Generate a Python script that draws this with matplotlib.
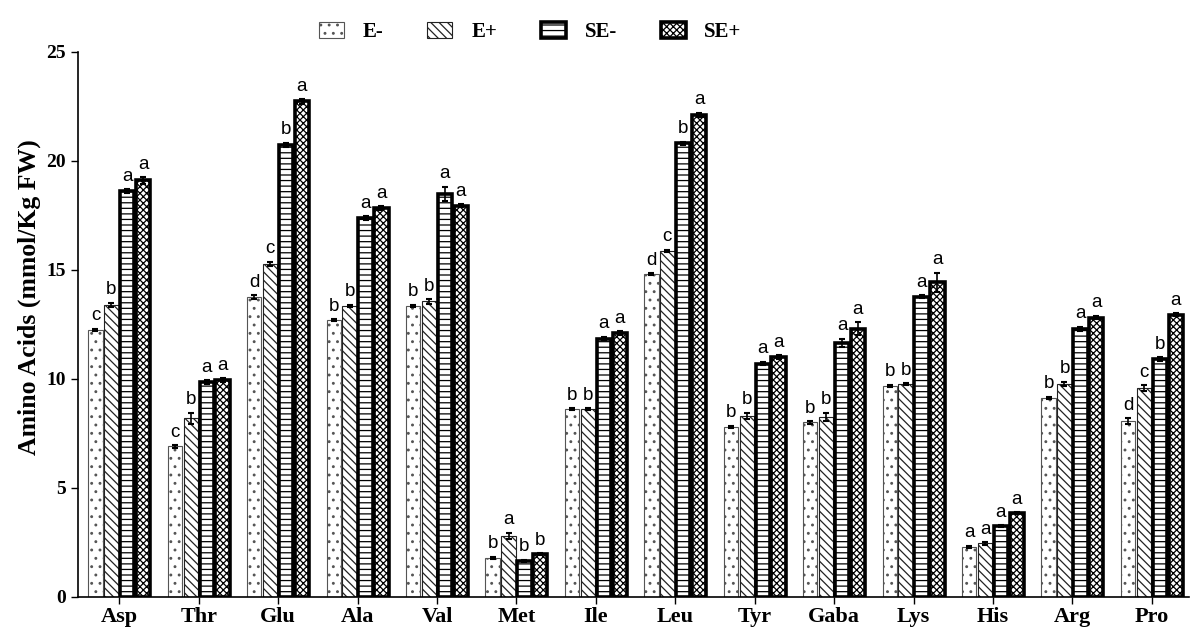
import matplotlib
matplotlib.use("Agg")
from matplotlib import pyplot as plt
from matplotlib.patches import Patch
import numpy as np

plt.rcParams['hatch.linewidth'] = 0.9

# dati
amino = ['Asp', 'Thr', 'Glu', 'Ala', 'Val', 'Met', 'Ile', 'Leu', 'Tyr', 'Gaba', 'Lys', 'His', 'Arg', 'Pro']
gruppi = ['E-', 'E+', 'SE-', 'SE+']

e_meno = [12.25, 6.9, 13.76, 12.7, 13.35, 1.8, 8.6, 14.8, 7.8, 8.0, 9.69, 2.3, 9.14, 8.07]
e_piu = [13.4, 8.2, 15.27, 13.35, 13.55, 2.8, 8.6, 15.87, 8.3, 8.25, 9.75, 2.45, 9.77, 9.58]
se_meno = [18.6, 9.85, 20.73, 17.38, 18.49, 1.65, 11.85, 20.8, 10.7, 11.65, 13.77, 3.25, 12.29, 10.92]
se_piu = [19.1, 9.95, 22.72, 17.83, 17.94, 1.95, 12.1, 22.1, 11.0, 12.3, 14.42, 3.85, 12.81, 12.94]

err_e_meno = [0.05, 0.05, 0.08, 0.05, 0.05, 0.05, 0.05, 0.05, 0.05, 0.05, 0.05, 0.05, 0.05, 0.12]
err_e_piu = [0.1, 0.25, 0.1, 0.05, 0.1, 0.15, 0.05, 0.05, 0.15, 0.2, 0.05, 0.05, 0.1, 0.12]
err_se_meno = [0.1, 0.1, 0.1, 0.08, 0.33, 0.05, 0.08, 0.08, 0.08, 0.2, 0.08, 0.05, 0.1, 0.08]
err_se_piu = [0.15, 0.08, 0.1, 0.08, 0.08, 0.05, 0.08, 0.1, 0.08, 0.3, 0.45, 0.05, 0.08, 0.08]

lettere_e_meno = ['c', 'c', 'd', 'b', 'b', 'b', 'b', 'd', 'b', 'b', 'b', 'a', 'b', 'd']
lettere_e_piu = ['b', 'b', 'c', 'b', 'b', 'a', 'b', 'c', 'b', 'b', 'b', 'a', 'b', 'c']
lettere_se_meno = ['a', 'a', 'b', 'a', 'a', 'b', 'a', 'b', 'a', 'a', 'a', 'a', 'a', 'b']
lettere_se_piu = ['a', 'a', 'a', 'a', 'a', 'b', 'a', 'a', 'a', 'a', 'a', 'a', 'a', 'a']

valori = [e_meno, e_piu, se_meno, se_piu]
errori = [err_e_meno, err_e_piu, err_se_meno, err_se_piu]
lettere = [lettere_e_meno, lettere_e_piu, lettere_se_meno, lettere_se_piu]

stili = [
    dict(hatch='..', edgecolor='#555555', linewidth=0.8),
    dict(hatch='\\\\\\\\', edgecolor='#222222', linewidth=0.8),
    dict(hatch='---', edgecolor='black', linewidth=2.6),
    dict(hatch='xxxxx', edgecolor='black', linewidth=2.6),
]

serif = ['Liberation Serif', 'DejaVu Serif']

fig = plt.figure(figsize=(12, 6.31), dpi=100)
ax = fig.add_axes([0.065, 0.054, 0.926, 0.864])

x = np.arange(len(amino))
step = 0.2
width = 0.18
for i in range(4):
    pos = x + (i - 1.5) * step
    ax.bar(pos, valori[i], width, color='white', **stili[i], zorder=2)
    ax.errorbar(pos, valori[i], yerr=errori[i], fmt='none', ecolor='black',
                elinewidth=1.2, capsize=2.5, capthick=1.5, zorder=3)
    for p, v, e, l in zip(pos, valori[i], errori[i], lettere[i]):
        ax.text(p, v + e + 0.2, l, ha='center', va='bottom', fontsize=13.5,
                family=['Liberation Sans', 'DejaVu Sans'])

ax.set_xlim(-0.52, 13.47)
ax.set_ylim(0, 25)
ax.set_yticks([0, 5, 10, 15, 20, 25])
ax.set_xticks(x)
ax.set_xticklabels(amino)
for lab in ax.get_xticklabels():
    lab.set_family(serif)
    lab.set_fontweight('bold')
    lab.set_fontsize(16)
for lab in ax.get_yticklabels():
    lab.set_family(serif)
    lab.set_fontweight('bold')
    lab.set_fontsize(14)
ax.tick_params(direction='out', length=5, width=1)
ax.tick_params(axis='x', pad=2)
ax.spines['top'].set_visible(False)
ax.spines['right'].set_visible(False)
ax.spines['left'].set_linewidth(1.2)
ax.spines['bottom'].set_linewidth(1.2)
ax.set_ylabel('Amino Acids (mmol/Kg FW)', family=serif, fontweight='bold', fontsize=18.5)
ax.yaxis.set_label_coords(-0.033, 0.55)

handles = [Patch(facecolor='white', label=g, **s) for g, s in zip(gruppi, stili)]
fig.legend(handles=handles, loc='upper center', bbox_to_anchor=(0.442, 0.995), ncol=4,
           frameon=False, prop=dict(family=serif, weight='bold', size=15),
           handlelength=1.2, handleheight=0.8, columnspacing=2.1, handletextpad=0.9)

fig.savefig('out.png', dpi=100)
